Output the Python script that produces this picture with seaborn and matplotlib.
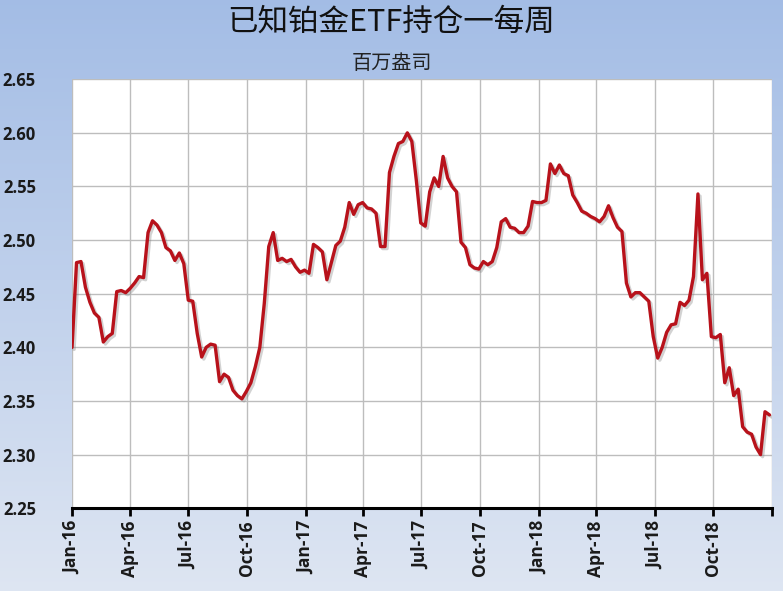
import numpy as np
import pandas as pd
import matplotlib

matplotlib.use("Agg")
import matplotlib.pyplot as plt
import matplotlib.dates as mdates
import matplotlib.patheffects as pe
import seaborn as sns

# Data: weekly known platinum ETF holdings, million oz
start_date = "2016-01-01"
holdings = [
    2.400, 2.479, 2.480, 2.456, 2.442, 2.432, 2.428, 2.405, 2.410, 2.413,
    2.452, 2.453, 2.451, 2.455, 2.460, 2.466, 2.465, 2.507, 2.518, 2.514,
    2.507, 2.493, 2.490, 2.481, 2.488, 2.478, 2.444, 2.443, 2.413, 2.391,
    2.400, 2.403, 2.402, 2.368, 2.375, 2.372, 2.360, 2.355, 2.352, 2.359,
    2.367, 2.382, 2.400, 2.441, 2.494, 2.507, 2.481, 2.483, 2.480, 2.482,
    2.475, 2.470, 2.472, 2.469, 2.496, 2.493, 2.489, 2.463, 2.479, 2.495,
    2.499, 2.512, 2.535, 2.524, 2.533, 2.535, 2.530, 2.529, 2.525, 2.494,
    2.494, 2.563, 2.578, 2.590, 2.592, 2.600, 2.592, 2.556, 2.516, 2.513,
    2.545, 2.558, 2.550, 2.578, 2.558, 2.550, 2.545, 2.498, 2.493, 2.477,
    2.474, 2.473, 2.480, 2.477, 2.480, 2.493, 2.517, 2.520, 2.512, 2.511,
    2.507, 2.507, 2.513, 2.536, 2.535, 2.535, 2.537, 2.571, 2.562, 2.570,
    2.562, 2.560, 2.542, 2.535, 2.527, 2.525, 2.522, 2.520, 2.517, 2.522,
    2.532, 2.521, 2.512, 2.508, 2.460, 2.447, 2.451, 2.451, 2.447, 2.443,
    2.410, 2.390, 2.400, 2.414, 2.421, 2.422, 2.442, 2.439, 2.444, 2.466,
    2.543, 2.463, 2.469, 2.410, 2.409, 2.412, 2.367, 2.381, 2.355, 2.361,
    2.326, 2.321, 2.319, 2.307, 2.300, 2.340, 2.337,
]
y_ticks = [2.25, 2.30, 2.35, 2.40, 2.45, 2.50, 2.55, 2.60, 2.65]
title = "已知铂金ETF持仓一每周"
subtitle = "百万盎司"

df = pd.DataFrame({
    "date": pd.date_range(start_date, periods=len(holdings), freq="7D"),
    "holdings": holdings,
})

sns.set_theme(style="whitegrid")
plt.rcParams["font.family"] = ["Noto Sans CJK SC", "DejaVu Sans"]

fig = plt.figure(figsize=(7.83, 5.91), dpi=100)

# blue gradient background
bg = fig.add_axes([0, 0, 1, 1])
grad = np.linspace(0, 1, 256)[:, None]
top = np.array([0.64, 0.74, 0.90])
bottom = np.array([0.87, 0.90, 0.95])
img = top + (bottom - top) * grad[..., None]
img = np.repeat(img, 2, axis=1)
bg.imshow(img, aspect="auto", extent=[0, 1, 0, 1])
bg.axis("off")

ax = fig.add_axes([0.092, 0.140, 0.894, 0.726])
ax.set_facecolor("white")
sns.lineplot(data=df, x="date", y="holdings", ax=ax, color="#b8121b", linewidth=2.4)
ax.lines[0].set_path_effects([
    pe.SimpleLineShadow(offset=(1.5, -1.5), shadow_color="gray", alpha=0.35),
    pe.Normal(),
])

ax.set_ylim(y_ticks[0], y_ticks[-1])
ax.set_yticks(y_ticks)
ax.set_yticklabels([f"{t:.2f}" for t in y_ticks])
ax.set_xlim(pd.Timestamp("2016-01-01"), pd.Timestamp("2019-01-01"))
ax.xaxis.set_major_locator(mdates.MonthLocator(bymonth=[1, 4, 7, 10]))
ax.xaxis.set_major_formatter(
    plt.FuncFormatter(lambda v, p: "" if mdates.num2date(v).year == 2019
                      else mdates.num2date(v).strftime("%b-%y"))
)
ax.set_xlabel("")
ax.set_ylabel("")
ax.grid(True, color="#bdbdbd", linewidth=1.0)
for s in ["left", "top", "right"]:
    ax.spines[s].set_visible(False)
ax.spines["bottom"].set_color("black")
ax.spines["bottom"].set_linewidth(2.2)
ax.tick_params(axis="x", bottom=True, direction="out", length=6, width=2, color="black",
               pad=3, rotation=90)
ax.tick_params(axis="y", left=False, pad=20)
for lab in ax.get_xticklabels():
    lab.set_family(["Open Sans", "DejaVu Sans"])
    lab.set_fontweight("bold")
    lab.set_fontsize(12.5)
    lab.set_color("#1a1a1a")
for lab in ax.get_yticklabels():
    lab.set_family(["Open Sans", "DejaVu Sans"])
    lab.set_fontweight("bold")
    lab.set_fontsize(12)
    lab.set_color("#1a1a1a")

fig.text(0.5, 0.963, title, ha="center", va="center", fontsize=22, color="#111111")
fig.text(0.5, 0.893, subtitle, ha="center", va="center", fontsize=14.5, color="#222222")

fig.savefig("out.png", dpi=100)
